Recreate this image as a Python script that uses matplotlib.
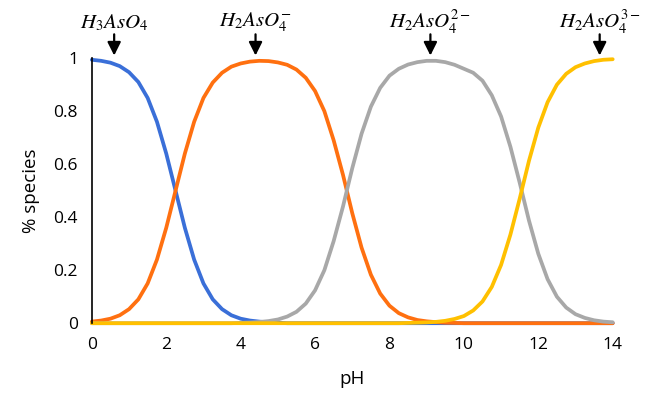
import matplotlib.pyplot as plt

plt.rcParams['font.family'] = ['Open Sans', 'DejaVu Sans']
plt.rcParams['mathtext.fontset'] = 'stix'

# pH grid, step 0.25
ph = [i * 0.25 for i in range(57)]

h3aso4 = [0.994, 0.99, 0.983, 0.97, 0.947, 0.91, 0.85, 0.76, 0.64, 0.50,
          0.36, 0.24, 0.15, 0.09, 0.053, 0.03, 0.017, 0.01, 0.006, 0.003,
          0.002] + [0] * 36
h2aso4 = [0.006, 0.01, 0.017, 0.03, 0.053, 0.09, 0.15, 0.24, 0.36, 0.50,
          0.64, 0.76, 0.85, 0.908, 0.945, 0.968, 0.98, 0.987, 0.99, 0.989,
          0.984, 0.975, 0.957, 0.926, 0.876, 0.80, 0.69, 0.56, 0.415, 0.285,
          0.183, 0.112, 0.066, 0.038, 0.022, 0.012, 0.007, 0.004, 0.002, 0.001] + [0] * 17
haso4 = [0] * 16 + [0.0014, 0.0025, 0.0045, 0.008, 0.014, 0.025, 0.043, 0.074, 0.124, 0.20,
                    0.31, 0.44, 0.585, 0.715, 0.817, 0.888, 0.934, 0.96, 0.976, 0.985,
                    0.99, 0.99, 0.985, 0.975, 0.96, 0.945, 0.915, 0.86, 0.78, 0.666,
                    0.53, 0.387, 0.262, 0.166, 0.10, 0.059, 0.034, 0.02, 0.011, 0.006, 0.0035]
aso4 = [0] * 34 + [0.001, 0.002, 0.003, 0.005, 0.009, 0.016, 0.027, 0.048, 0.082, 0.137,
                   0.22, 0.334, 0.47, 0.613, 0.738, 0.834, 0.90, 0.941, 0.966, 0.98,
                   0.989, 0.994, 0.996]

labels = [r'$H_3AsO_4$', r'$H_2AsO_4^{-}$', r'$H_2AsO_4^{2-}$', r'$H_2AsO_4^{3-}$']
label_ph = [0.6, 4.4, 9.1, 13.65]

fig = plt.figure(figsize=(6.56, 4.04), dpi=100)
ax = fig.add_axes([0.140, 0.200, 0.794, 0.656])

ax.plot(ph, h3aso4, color='#3A6FD8', lw=2.7, clip_on=False, solid_capstyle='round')
ax.plot(ph, h2aso4, color='#FF7010', lw=2.7, clip_on=False, solid_capstyle='round')
ax.plot(ph, haso4, color='#A8A8A8', lw=2.7, clip_on=False, solid_capstyle='round')
ax.plot(ph, aso4, color='#FFC000', lw=2.7, clip_on=False, solid_capstyle='round')

for lab, x in zip(labels, label_ph):
    ax.text(x, 1.135, lab, ha='center', va='center', fontsize=15)
    ax.annotate('', xy=(x, 1.01), xytext=(x, 1.09), annotation_clip=False,
                arrowprops=dict(arrowstyle='-|>,head_width=0.2,head_length=0.4',
                                mutation_scale=20, color='black', lw=1.6,
                                shrinkA=0, shrinkB=0))

ax.set_xlim(0, 14)
ax.set_ylim(0, 1)
ax.set_xticks(range(0, 15, 2))
ax.set_yticks([0, 0.2, 0.4, 0.6, 0.8, 1])
ax.set_yticklabels(['0', '0.2', '0.4', '0.6', '0.8', '1'])
ax.tick_params(length=0, labelsize=12.5, pad=10)
for s in ['top', 'right', 'bottom']:
    ax.spines[s].set_visible(False)
ax.spines['left'].set_linewidth(1.2)
ax.set_xlabel('pH', fontsize=13.5, labelpad=12)
ax.set_ylabel('% species', fontsize=13.5, labelpad=10)

fig.savefig('out.png', dpi=100)
